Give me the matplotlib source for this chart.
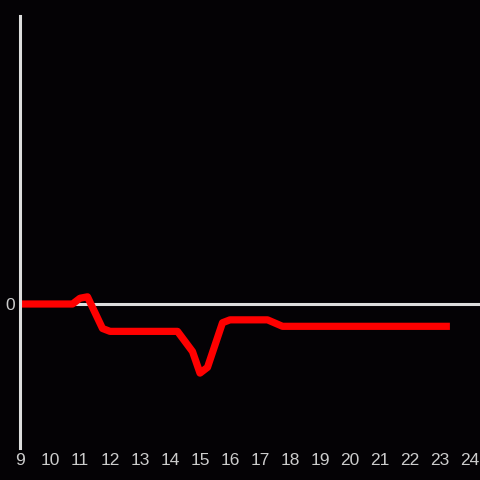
import matplotlib
matplotlib.use("Agg")
import matplotlib.pyplot as plt

plt.rcParams["font.family"] = ["Liberation Sans", "DejaVu Sans"]

hours = [9.0, 10.75, 11.0, 11.25, 11.75, 12.0, 14.25, 14.75, 15.0, 15.25, 15.75, 16.0, 17.25, 17.75, 23.33]
values = [0.0, 0.0, 0.04, 0.05, -0.17, -0.19, -0.19, -0.33, -0.48, -0.44, -0.13, -0.11, -0.11, -0.155, -0.155]
xticks = list(range(9, 25))

bg = "#040205"
fig = plt.figure(figsize=(4.8, 4.8), dpi=100, facecolor=bg)
ax = fig.add_axes([20/480, 32/480, 460/480, 432/480], facecolor=bg)

ax.axhline(0, color="#dddddd", lw=2.2, zorder=1)
ax.plot(hours, values, color="#ff0000", lw=5.2, solid_joinstyle="round", solid_capstyle="butt", zorder=2)

ax.set_xlim(9, 9 + 460/30)
ax.set_ylim(-1, 2)
ax.set_xticks(xticks)
ax.set_xticklabels([str(t) for t in xticks])
ax.set_yticks([0])
ax.set_yticklabels(["0"])
ax.tick_params(axis="both", length=0, colors="#cccccc", labelsize=12.5)
ax.tick_params(axis="x", pad=3.5)
ax.tick_params(axis="y", pad=3.5)
for s in ["top", "right", "bottom"]:
    ax.spines[s].set_visible(False)
ax.spines["left"].set_color("#dddddd")
ax.spines["left"].set_linewidth(2.2)

fig.savefig("out.png", dpi=100, facecolor=bg)
